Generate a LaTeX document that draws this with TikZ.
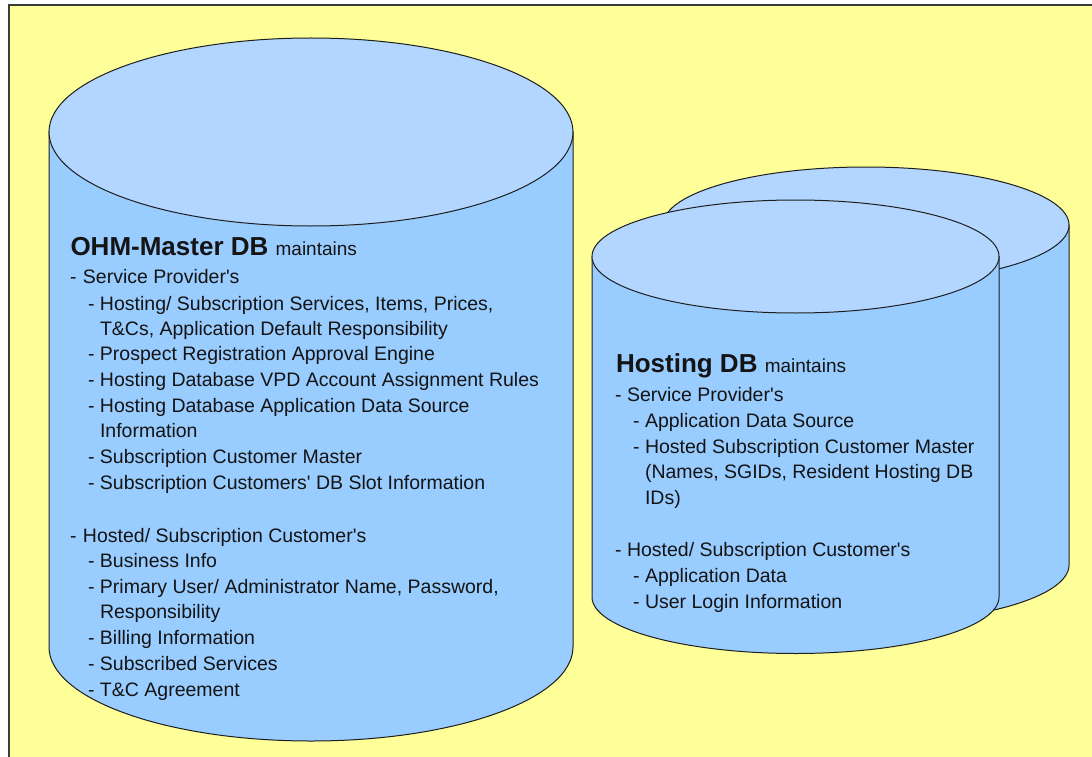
\documentclass[tikz,border=0pt]{standalone}
\usepackage{fontspec}
\setmainfont{Liberation Sans}
\definecolor{slidebg}{RGB}{255,255,153}
\definecolor{topcol}{RGB}{178,214,255}
\definecolor{sidecol}{RGB}{153,204,255}
\definecolor{edgecol}{RGB}{30,30,30}
\definecolor{framecol}{RGB}{60,60,60}
\definecolor{txtcol}{RGB}{20,20,20}
% cylinder: centre x, top centre y, bottom centre y, x radius, y radius
\newcommand\dbcylinder[5]{%
  \path[dbside] (#1-#4,#2) -- (#1-#4,#3)
    arc[start angle=180,end angle=0,x radius=#4,y radius=#5]
    -- (#1+#4,#2) -- cycle;
  \path[dbtop] (#1,#2) ellipse[x radius=#4,y radius=#5];}
\newcommand\dash[1]{\makebox[#1][l]{-}}
\newcommand\apos{\textquotesingle}
\begin{document}
\begin{tikzpicture}[x=1pt,y=-1pt,
  dbside/.style={fill=sidecol,draw=edgecol,line width=1pt},
  dbtop/.style={fill=topcol,draw=edgecol,line width=1pt},
  txt/.style={anchor=base west,inner sep=0pt,outer sep=0pt,text=txtcol,
    font=\fontsize{19.5}{24}\selectfont},
  ttl/.style={txt,font=\fontsize{26}{30}\selectfont\bfseries}]
\useasboundingbox (0,0) rectangle (1092,757);
\fill[white] (0,0) rectangle (1092,757);
\fill[slidebg] (9,5) rectangle (1092,757);
\draw[framecol,line width=1.5pt] (1092,5) -- (9,5) -- (9,757);

% OHM master database
\dbcylinder{311}{132}{647}{262}{94}
% hosting databases (back copy, then front)
\dbcylinder{866}{225}{565}{203}{58}
\dbcylinder{795.5}{256.5}{597}{203.5}{56.5}

% OHM-Master DB contents
\node[ttl] (m0) at (70.5,255) {OHM-Master DB {\mdseries\fontsize{19}{24}\selectfont maintains}};
\node[txt] (m1) at (70,283) {\dash{13pt}Service Provider\apos s};
\node[txt] (m2) at (88,310) {\dash{12pt}Hosting/ Subscription Services, Items, Prices,};
\node[txt] (m3) at (100,335) {T\&Cs, Application Default Responsibility};
\node[txt] (m4) at (88,360) {\dash{12pt}Prospect Registration Approval Engine};
\node[txt] (m5) at (88,386) {\dash{12pt}Hosting Database VPD Account Assignment Rules};
\node[txt] (m6) at (88,412) {\dash{12pt}Hosting Database Application Data Source};
\node[txt] (m7) at (100,437) {Information};
\node[txt] (m8) at (88,463) {\dash{12pt}Subscription Customer Master};
\node[txt] (m9) at (88,489) {\dash{12pt}Subscription Customers\apos{} DB Slot Information};
\node[txt] (m10) at (70,542) {\dash{13pt}Hosted/ Subscription Customer\apos s};
\node[txt] (m11) at (88,567) {\dash{12pt}Business Info};
\node[txt] (m12) at (88,593) {\dash{12pt}Primary User/ Administrator Name, Password,};
\node[txt] (m13) at (100,618) {Responsibility};
\node[txt] (m14) at (88,644) {\dash{12pt}Billing Information};
\node[txt] (m15) at (88,670) {\dash{12pt}Subscribed Services};
\node[txt] (m16) at (88,696) {\dash{12pt}T\&C Agreement};

% Hosting DB contents
\node[ttl] (h0) at (616,372) {Hosting DB {\mdseries\fontsize{19}{24}\selectfont maintains}};
\node[txt] (h1) at (615,401) {\dash{12pt}Service Provider\apos s};
\node[txt] (h2) at (633,427) {\dash{12pt}Application Data Source};
\node[txt] (h3) at (633,453) {\dash{12pt}Hosted Subscription Customer Master};
\node[txt] (h4) at (645,478) {(Names, SGIDs, Resident Hosting DB};
\node[txt] (h5) at (645,504) {IDs)};
\node[txt] (h6) at (615,556) {\dash{12pt}Hosted/ Subscription Customer\apos s};
\node[txt] (h7) at (633,582) {\dash{12pt}Application Data};
\node[txt] (h8) at (633,608) {\dash{12pt}User Login Information};
\end{tikzpicture}
\end{document}
